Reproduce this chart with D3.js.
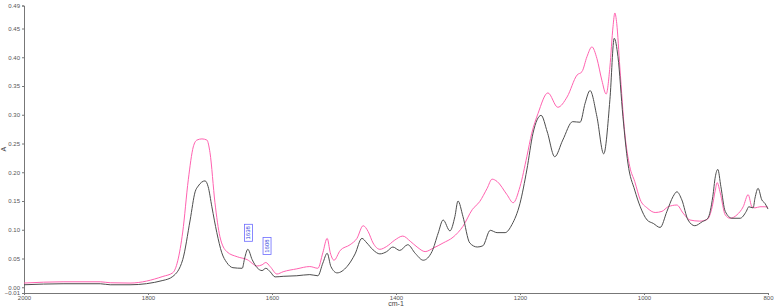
<!DOCTYPE html>
<html>
<head>
<meta charset="utf-8">
<script src="https://cdn.jsdelivr.net/npm/d3@7"></script>
<style>
  body { margin: 0; background: #fff; }
  svg { display: block; font-family: "Liberation Sans", Arial, sans-serif; }
</style>
</head>
<body>
<div id="chart"></div>
<script>
// IR spectrum, two samples (absorbance vs wavenumber)

const wavenumberTicks = [2000, 1800, 1600, 1400, 1200, 1000, 800];
const absorbanceTicks = [-0.01, 0.00, 0.05, 0.10, 0.15, 0.20, 0.25, 0.30, 0.35, 0.40, 0.45, 0.49];

// sample 1 (dark line): [wavenumber, absorbance]
const darkSpectrum = [
    [2000, 0.0043], [1937, 0.0061], [1877, 0.0061], [1861, 0.0043], [1829, 0.0043],
    [1776, 0.0118], [1760, 0.0188], [1744, 0.048], [1732, 0.117], [1724, 0.166],
    [1719, 0.176], [1708, 0.185], [1703, 0.175], [1697, 0.140], [1689, 0.095],
    [1681, 0.060], [1673, 0.043], [1663, 0.034], [1648, 0.033], [1644, 0.051],
    [1639, 0.066], [1632, 0.048], [1624, 0.034], [1616, 0.029], [1610, 0.033],
    [1603, 0.027], [1595, 0.018], [1582, 0.019], [1560, 0.020], [1539, 0.022],
    [1526, 0.020], [1518, 0.042], [1511, 0.059], [1505, 0.036], [1495, 0.025],
    [1479, 0.036], [1466, 0.058], [1455, 0.085], [1447, 0.077], [1437, 0.065],
    [1426, 0.058], [1415, 0.062], [1405, 0.070], [1394, 0.064], [1381, 0.074],
    [1369, 0.059], [1356, 0.047], [1342, 0.062], [1332, 0.094], [1324, 0.117],
    [1313, 0.098], [1305, 0.123], [1300, 0.150], [1292, 0.123], [1281, 0.077],
    [1269, 0.070], [1260, 0.072], [1248, 0.099], [1237, 0.095], [1224, 0.095],
    [1213, 0.109], [1200, 0.146], [1189, 0.204], [1179, 0.268], [1166, 0.299],
    [1156, 0.270], [1144, 0.227], [1131, 0.256], [1115, 0.288], [1103, 0.287],
    [1095, 0.320], [1087, 0.342], [1076, 0.297], [1065, 0.232], [1055, 0.326],
    [1048, 0.433], [1042, 0.401], [1034, 0.297], [1026, 0.216], [1015, 0.169],
    [1006, 0.140], [995, 0.117], [985, 0.111], [974, 0.104], [963, 0.132],
    [953, 0.158], [947, 0.166], [939, 0.152], [929, 0.117], [918, 0.107],
    [906, 0.114], [897, 0.120], [889, 0.158], [885, 0.192], [881, 0.205],
    [876, 0.175], [869, 0.132], [858, 0.120], [845, 0.120], [835, 0.132],
    [831, 0.140], [824, 0.138], [821, 0.155], [816, 0.172], [810, 0.152],
    [805, 0.146], [800, 0.136]
];

// sample 2 (pink line)
const pinkSpectrum = [
    [2000, 0.0073], [1937, 0.0095], [1877, 0.0095], [1861, 0.0078], [1829, 0.0073],
    [1776, 0.0188], [1760, 0.0252], [1744, 0.096], [1735, 0.187], [1727, 0.244],
    [1721, 0.256], [1713, 0.258], [1705, 0.256], [1700, 0.234], [1692, 0.147],
    [1684, 0.088], [1673, 0.062], [1656, 0.053], [1640, 0.048], [1624, 0.037],
    [1616, 0.039], [1610, 0.043], [1603, 0.036], [1592, 0.023], [1582, 0.027],
    [1560, 0.032], [1539, 0.036], [1526, 0.033], [1518, 0.060], [1511, 0.085],
    [1506, 0.060], [1500, 0.047], [1490, 0.064], [1474, 0.074], [1463, 0.085],
    [1453, 0.107], [1445, 0.097], [1437, 0.077], [1426, 0.066], [1415, 0.071],
    [1402, 0.082], [1389, 0.089], [1377, 0.080], [1366, 0.070], [1353, 0.062],
    [1340, 0.068], [1324, 0.077], [1308, 0.087], [1292, 0.106], [1277, 0.135],
    [1265, 0.149], [1253, 0.172], [1245, 0.188], [1237, 0.184], [1221, 0.161],
    [1211, 0.147], [1200, 0.175], [1189, 0.227], [1181, 0.268], [1171, 0.302],
    [1155, 0.338], [1139, 0.313], [1124, 0.331], [1108, 0.369], [1100, 0.375],
    [1092, 0.401], [1084, 0.418], [1076, 0.398], [1068, 0.360], [1061, 0.336],
    [1055, 0.383], [1050, 0.453], [1047, 0.477], [1044, 0.459], [1039, 0.383],
    [1031, 0.268], [1023, 0.210], [1015, 0.184], [1006, 0.152], [995, 0.138],
    [982, 0.130], [971, 0.132], [961, 0.140], [947, 0.143], [937, 0.129],
    [926, 0.117], [910, 0.115], [898, 0.118], [890, 0.140], [885, 0.169],
    [882, 0.182], [877, 0.164], [869, 0.126], [861, 0.120], [850, 0.126],
    [840, 0.140], [832, 0.161], [826, 0.140], [821, 0.138], [813, 0.140],
    [805, 0.140], [800, 0.139]
];

// peak labels: wavenumber, absorbance where the label sits above
const peakLabels = [
    { wn: 1638, a: 0.066, text: "1638" },
    { wn: 1608, a: 0.043, text: "1608" }
];

const width = 776, height = 307;
const margin = { top: 5, right: 8, bottom: 14, left: 24 };

const svg = d3.select("#chart").append("svg")
    .attr("width", width)
    .attr("height", height);

const x = d3.scaleLinear()
    .domain([2000, 800])
    .range([margin.left, width - margin.right]);

const y = d3.scaleLinear()
    .domain([-0.01, 0.49])
    .range([height - margin.bottom, margin.top + 0.5]);

// axes
const xAxis = d3.axisBottom(x)
    .tickValues(wavenumberTicks)
    .tickSize(2)
    .tickPadding(1)
    .tickFormat(d3.format("d"));

const yAxis = d3.axisLeft(y)
    .tickValues(absorbanceTicks)
    .tickSize(2)
    .tickPadding(2)
    .tickFormat(d3.format(".2f"));

const gx = svg.append("g")
    .attr("transform", `translate(0,${height - margin.bottom})`)
    .call(xAxis);

const gy = svg.append("g")
    .attr("transform", `translate(${margin.left},0)`)
    .call(yAxis);

[gx, gy].forEach(g => {
    g.select(".domain").attr("stroke", "#777").attr("stroke-width", 1);
    g.selectAll(".tick line").attr("stroke", "#777");
    g.selectAll(".tick text")
        .attr("fill", "#555")
        .style("font-size", "6px");
});

// axis titles
svg.append("text")
    .attr("x", x(1400))
    .attr("y", height - 1)
    .attr("text-anchor", "middle")
    .attr("fill", "#444")
    .style("font-size", "7px")
    .text("cm-1");

svg.append("text")
    .attr("transform", `translate(6,${(y(0.49) + y(-0.01)) / 2}) rotate(-90)`)
    .attr("text-anchor", "middle")
    .attr("fill", "#444")
    .style("font-size", "7px")
    .text("A");

// spectra
const line = d3.line()
    .x(d => x(d[0]))
    .y(d => y(d[1]))
    .curve(d3.curveMonotoneX);

svg.append("path")
    .datum(pinkSpectrum)
    .attr("fill", "none")
    .attr("stroke", "#ff62b0")
    .attr("stroke-width", 1)
    .attr("d", line);

svg.append("path")
    .datum(darkSpectrum)
    .attr("fill", "none")
    .attr("stroke", "#4d4d4d")
    .attr("stroke-width", 1)
    .attr("d", line);

// peak label boxes (rotated text)
const labels = svg.selectAll("g.peak")
    .data(peakLabels)
    .enter()
    .append("g")
    .attr("class", "peak")
    .attr("transform", d => `translate(${x(d.wn)},${y(d.a) - 8}) rotate(-90)`);

labels.append("rect")
    .attr("x", 0)
    .attr("y", -4)
    .attr("width", 17)
    .attr("height", 8)
    .attr("fill", "#fff")
    .attr("stroke", "#6b6bff")
    .attr("stroke-width", 0.8);

labels.append("text")
    .attr("x", 8.5)
    .attr("y", 2)
    .attr("text-anchor", "middle")
    .attr("fill", "#3344dd")
    .style("font-size", "6px")
    .text(d => d.text);
</script>
</body>
</html>
